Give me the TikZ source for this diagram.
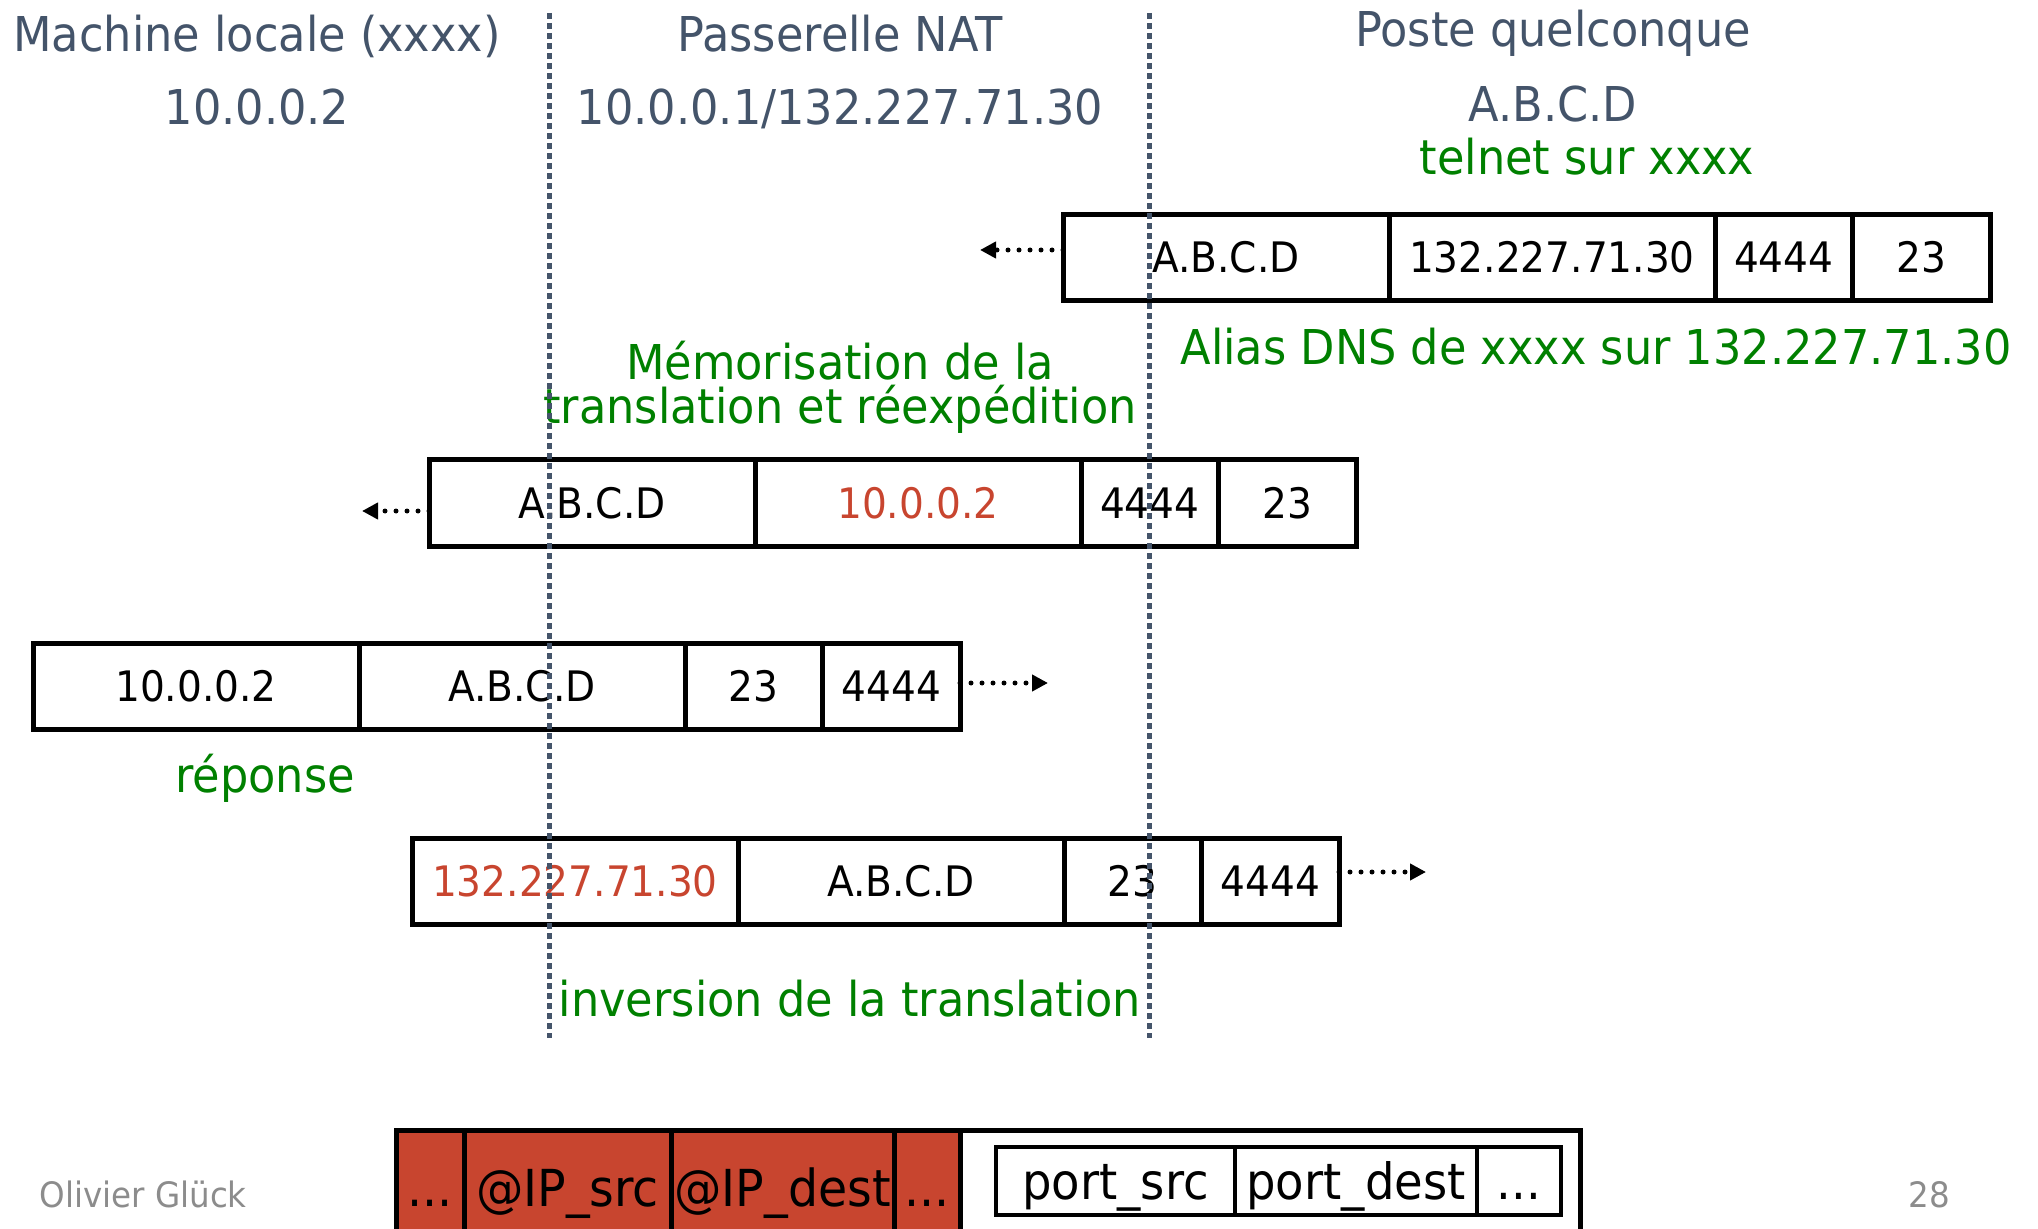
\documentclass[tikz,border=0pt]{standalone}
\usepackage{fontspec}
\setmainfont[FakeStretch=0.93]{DejaVu Sans}
\usetikzlibrary{positioning,arrows.meta}
\definecolor{slate}{HTML}{44546A}
\definecolor{okgreen}{HTML}{008000}
\definecolor{natred}{HTML}{C8452F}
\definecolor{footgray}{HTML}{8C8C8C}
\begin{document}
\begin{tikzpicture}[x=5pt,y=-5pt,
  hdtext/.style={anchor=base, text=slate, inner sep=0, font=\fontsize{24}{28}\selectfont},
  greentext/.style={anchor=base, text=okgreen, inner sep=0, font=\fontsize{24}{28}\selectfont},
  cellbox/.style={draw, line width=2.5pt, minimum height=43pt, minimum width=163pt, inner sep=0, outer sep=0, font=\fontsize{21}{24}\selectfont},
  smallcell/.style={cellbox, minimum width=68.75pt},
  natline/.style={slate, line width=2.5pt, dash pattern=on 3pt off 2pt},
  dotflow/.style={line width=2.5pt, line cap=round, dash pattern=on 0pt off 5.5pt, -{Triangle[length=8pt,width=8pt]}},
  hdrfield/.style={draw, line width=2.5pt, minimum height=57pt, inner sep=0, outer sep=0, text height=19pt, text depth=0pt, anchor=north west, font=\fontsize{25.5}{30}\selectfont},
  portcell/.style={draw, line width=2.25pt, minimum height=34pt, inner sep=0, outer sep=0, text height=18.5pt, text depth=0pt, font=\fontsize{25}{30}\selectfont}]
\useasboundingbox (0,0) rectangle (203.8,122.9);
\node[hdtext] (machine) at (25.7,5.2) {Machine locale (xxxx)};
\node[hdtext] (machineip) at (25.7,12.5) {10.0.0.2};
\node[hdtext] (nat) at (84.0,5.2) {Passerelle NAT};
\node[hdtext] (natip) at (84.0,12.5) {10.0.0.1/132.227.71.30};
\node[hdtext] (poste) at (155.3,4.7) {Poste quelconque};
\node[hdtext] (posteip) at (155.3,12.2) {A.B.C.D};
\node[greentext] (telnet) at (158.7,17.5) {telnet sur xxxx};
\node[greentext] (alias) at (159.6,36.5) {Alias DNS de xxxx sur 132.227.71.30};
\node[greentext] (memoa) at (84.0,38.0) {Mémorisation de la};
\node[greentext] (memob) at (84.0,42.4) {translation et réexpédition};
\node[greentext] (reponse) at (26.5,79.2) {réponse};
\node[greentext] (inversion) at (85.0,101.6) {inversion de la translation};
\node[cellbox, anchor=west] (pa1) at (106.3,25.75) {A.B.C.D};
\node[cellbox, right=0pt of pa1] (pa2) {132.227.71.30};
\node[smallcell, right=0pt of pa2] (pa3) {4444};
\node[smallcell, right=0pt of pa3] (pa4) {23};
\coordinate (pa0) at (98.0,25.0);
\draw[dotflow] (pa1.west |- pa0) -- (pa0);
\node[cellbox, anchor=west] (pb1) at (42.9,50.3) {A.B.C.D};
\node[cellbox, right=0pt of pb1, text=natred] (pb2) {10.0.0.2};
\node[smallcell, right=0pt of pb2] (pb3) {4444};
\node[smallcell, right=0pt of pb3] (pb4) {23};
\coordinate (pb0) at (36.2,51.1);
\draw[dotflow] (pb1.west |- pb0) -- (pb0);
\node[cellbox, anchor=west] (pc1) at (3.3,68.65) {10.0.0.2};
\node[cellbox, right=0pt of pc1] (pc2) {A.B.C.D};
\node[smallcell, right=0pt of pc2] (pc3) {23};
\node[smallcell, right=0pt of pc3] (pc4) {4444};
\coordinate (pc0) at (104.8,68.3);
\draw[dotflow] (pc4.east |- pc0) -- (pc0);
\node[cellbox, anchor=west, text=natred] (pd1) at (41.2,88.1) {132.227.71.30};
\node[cellbox, right=0pt of pd1] (pd2) {A.B.C.D};
\node[smallcell, right=0pt of pd2] (pd3) {23};
\node[smallcell, right=0pt of pd3] (pd4) {4444};
\coordinate (pd0) at (142.6,87.2);
\draw[dotflow] (pd4.east |- pd0) -- (pd0);
\draw[natline] (54.9,1.3) -- (54.9,103.8);
\draw[natline] (114.9,1.3) -- (114.9,103.8);
\node[hdrfield, fill=natred, minimum width=34pt] (fa) at (39.6,113.0) {{.}{.}{.}};
\node[hdrfield, fill=natred, minimum width=103.5pt, right=0pt of fa] (fb) {@IP\_src};
\node[hdrfield, fill=natred, minimum width=111.5pt, right=0pt of fb] (fc) {@IP\_dest};
\node[hdrfield, fill=natred, minimum width=33pt, right=0pt of fc] (fd) {{.}{.}{.}};
\node[hdrfield, minimum width=310pt, right=0pt of fd] (fe) {};
\node[portcell, minimum width=119.5pt, anchor=west] (ga) at (99.6,118.1) {port\_src};
\node[portcell, minimum width=121pt, right=0pt of ga] (gb) {port\_dest};
\node[portcell, minimum width=42pt, right=0pt of gb] (gc) {{.}{.}{.}};
\node[anchor=base west, text=footgray, inner sep=0, font=\fontsize{17.5}{20}\selectfont] (author) at (3.9,120.7) {Olivier Glück};
\node[anchor=base, text=footgray, inner sep=0, font=\fontsize{17.5}{20}\selectfont] (pagenum) at (192.9,120.7) {28};
\end{tikzpicture}
\end{document}
